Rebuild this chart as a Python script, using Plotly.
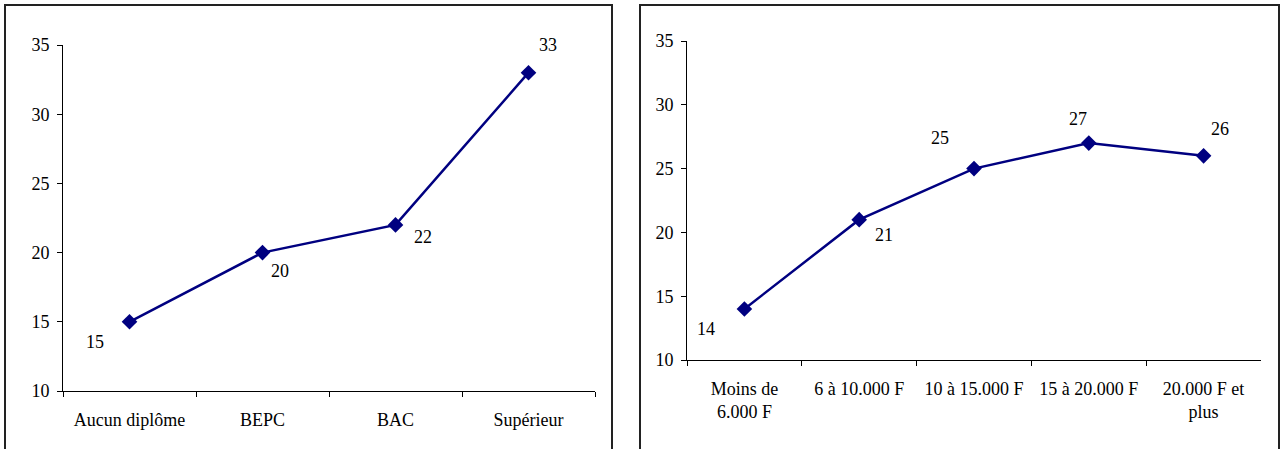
import plotly.graph_objects as go

# ---- data ----
diplome_cats = ["Aucun diplôme", "BEPC", "BAC", "Supérieur"]
diplome_vals = [15, 20, 22, 33]

revenu_cats = ["Moins de<br>6.000 F", "6 à 10.000 F", "10 à 15.000 F", "15 à 20.000 F", "20.000 F et<br>plus"]
revenu_vals = [14, 21, 25, 27, 26]

y_ticks = [10, 15, 20, 25, 30, 35]

# ---- label offsets (pixels, style only) ----
diplome_dx = [-35, 17, 27, 19]
diplome_dy = [-20, -18, -12, 28]
revenu_dx = [-38, 25, -34, -11, 16]
revenu_dy = [-20, -15, 31, 24, 27]

W, H = 1281, 449
NAVY = "#000080"
FONT = dict(family="Liberation Serif, Times New Roman, serif", size=18, color="black")

fig = go.Figure()

fig.add_trace(go.Scatter(
    x=diplome_cats, y=diplome_vals, xaxis="x", yaxis="y",
    mode="lines+markers",
    line=dict(color=NAVY, width=2.5),
    marker=dict(symbol="diamond", size=12, color=NAVY),
    hoverinfo="skip", showlegend=False,
))
fig.add_trace(go.Scatter(
    x=revenu_cats, y=revenu_vals, xaxis="x2", yaxis="y2",
    mode="lines+markers",
    line=dict(color=NAVY, width=2.5),
    marker=dict(symbol="diamond", size=12, color=NAVY),
    hoverinfo="skip", showlegend=False,
))

annotations = []
for c, v, dx, dy in zip(diplome_cats, diplome_vals, diplome_dx, diplome_dy):
    annotations.append(dict(x=c, y=v, xref="x", yref="y", text=str(v), showarrow=False,
                            xshift=dx, yshift=dy, font=FONT))
for c, v, dx, dy in zip(revenu_cats, revenu_vals, revenu_dx, revenu_dy):
    annotations.append(dict(x=c, y=v, xref="x2", yref="y2", text=str(v), showarrow=False,
                            xshift=dx, yshift=dy, font=FONT))

def px_x(p):
    return p / W

def px_y(p):
    return 1 - p / H

common_x = dict(type="category", tickson="boundaries", showline=True, linecolor="black", linewidth=1,
                ticks="outside", ticklen=5, tickcolor="black", showgrid=False, zeroline=False,
                tickfont=FONT, fixedrange=True, automargin=False, ticklabelstandoff=12)
common_y = dict(range=[10, 35], tickvals=y_ticks, showline=True, linecolor="black", linewidth=1,
                ticks="outside", ticklen=5, tickcolor="black", showgrid=False, zeroline=False,
                tickfont=FONT, fixedrange=True, ticklabelstandoff=4, automargin=False)

fig.update_layout(
    width=W, height=H, autosize=False,
    margin=dict(l=0, r=0, t=0, b=0, autoexpand=False),
    paper_bgcolor="white", plot_bgcolor="white",
    font=FONT,
    xaxis=dict(common_x, domain=[px_x(63), px_x(595)], anchor="y", range=[-0.5, 3.5]),
    yaxis=dict(common_y, domain=[px_y(391), px_y(45)], anchor="x"),
    xaxis2=dict(common_x, domain=[px_x(687), px_x(1261)], anchor="y2", range=[-0.5, 4.5]),
    yaxis2=dict(common_y, domain=[px_y(360), px_y(41)], anchor="x2"),
    annotations=annotations,
    shapes=[
        dict(type="rect", xref="paper", yref="paper",
             x0=px_x(5), x1=px_x(612), y0=-0.1, y1=px_y(5),
             line=dict(color="#222222", width=2), fillcolor="rgba(0,0,0,0)", layer="below"),
        dict(type="rect", xref="paper", yref="paper",
             x0=px_x(640), x1=px_x(1279), y0=-0.1, y1=px_y(5),
             line=dict(color="#222222", width=2), fillcolor="rgba(0,0,0,0)", layer="below"),
    ],
)

fig.write_html(
    "out.html",
    config={"responsive": False, "displayModeBar": False},
    post_script="document.body.style.margin='0';document.body.style.padding='0';",
)
